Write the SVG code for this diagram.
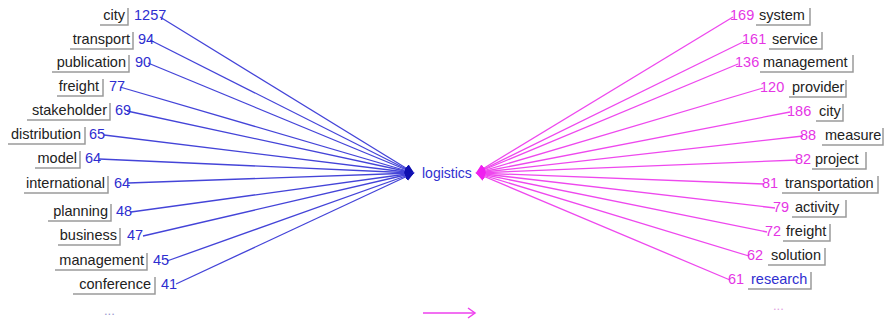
<svg xmlns="http://www.w3.org/2000/svg" width="894" height="322" viewBox="0 0 894 322">
<style>
.lbl{font-family:"Liberation Sans",Arial,sans-serif;font-size:14.5px;fill:#222}
.numL{font-family:"Liberation Sans",Arial,sans-serif;font-size:14.5px;fill:#2e2ed0}
.numR{font-family:"Liberation Sans",Arial,sans-serif;font-size:14.5px;fill:#e535e5}
.box{fill:none;stroke:#9a9a9a;stroke-width:1.5}
.box2{fill:none;stroke:#d4d4d4;stroke-width:1}
.cL{stroke:#4444d8;stroke-width:1.3;fill:none}
.cR{stroke:#ee48ee;stroke-width:1.3;fill:none}
.hub{font-family:"Liberation Sans",Arial,sans-serif;font-size:14px;fill:#3030d0}
</style>
<defs>
<marker id="aL" viewBox="0 0 10 10" refX="10" refY="5" markerWidth="9" markerHeight="9" markerUnits="userSpaceOnUse" orient="auto"><path d="M0,0 L10,5 L0,10 z" fill="#1010b0"/></marker>
<marker id="aR" viewBox="0 0 10 10" refX="10" refY="5" markerWidth="9" markerHeight="9" markerUnits="userSpaceOnUse" orient="auto"><path d="M0,0 L10,5 L0,10 z" fill="#f020f0"/></marker>
</defs>
<rect width="894" height="322" fill="#fff"/>
<g id="connectors">
<line class="cL" x1="160" y1="17" x2="414" y2="173" marker-end="url(#aL)"/>
<line class="cL" x1="150" y1="40" x2="414" y2="173" marker-end="url(#aL)"/>
<line class="cL" x1="148" y1="63" x2="414" y2="173" marker-end="url(#aL)"/>
<line class="cL" x1="120" y1="87" x2="414" y2="173" marker-end="url(#aL)"/>
<line class="cL" x1="127" y1="111" x2="414" y2="173" marker-end="url(#aL)"/>
<line class="cL" x1="104" y1="135" x2="414" y2="173" marker-end="url(#aL)"/>
<line class="cL" x1="99" y1="159" x2="414" y2="173" marker-end="url(#aL)"/>
<line class="cL" x1="128" y1="183" x2="414" y2="173" marker-end="url(#aL)"/>
<line class="cL" x1="131" y1="212" x2="414" y2="173" marker-end="url(#aL)"/>
<line class="cL" x1="143" y1="236" x2="414" y2="173" marker-end="url(#aL)"/>
<line class="cL" x1="167" y1="261" x2="414" y2="173" marker-end="url(#aL)"/>
<line class="cL" x1="176" y1="284" x2="414" y2="173" marker-end="url(#aL)"/>
<line class="cR" x1="733" y1="17" x2="476" y2="173" marker-end="url(#aR)"/>
<line class="cR" x1="745" y1="41" x2="476" y2="173" marker-end="url(#aR)"/>
<line class="cR" x1="738" y1="64" x2="476" y2="173" marker-end="url(#aR)"/>
<line class="cR" x1="763" y1="88" x2="476" y2="173" marker-end="url(#aR)"/>
<line class="cR" x1="790" y1="112" x2="476" y2="173" marker-end="url(#aR)"/>
<line class="cR" x1="803" y1="136" x2="476" y2="173" marker-end="url(#aR)"/>
<line class="cR" x1="798" y1="160" x2="476" y2="173" marker-end="url(#aR)"/>
<line class="cR" x1="764" y1="184" x2="476" y2="173" marker-end="url(#aR)"/>
<line class="cR" x1="775" y1="208" x2="476" y2="173" marker-end="url(#aR)"/>
<line class="cR" x1="767" y1="232" x2="476" y2="173" marker-end="url(#aR)"/>
<line class="cR" x1="749" y1="256" x2="476" y2="173" marker-end="url(#aR)"/>
<line class="cR" x1="730" y1="280" x2="476" y2="173" marker-end="url(#aR)"/>
</g>
<g id="hub"><text class="hub" x="422" y="178">logistics</text></g>
<g id="left-nodes">
<g id="L1"><path class="box" d="M100,25 H128 V8"/><text class="lbl" x="125" y="20" text-anchor="end">city</text><text class="numL" x="134" y="20">1257</text></g>
<g id="L2"><path class="box" d="M70,49 H133 V32"/><text class="lbl" x="130" y="44" text-anchor="end">transport</text><text class="numL" x="138" y="44">94</text></g>
<g id="L3"><path class="box" d="M52,72 H129 V55"/><text class="lbl" x="126" y="67" text-anchor="end">publication</text><text class="numL" x="135" y="67">90</text></g>
<g id="L4"><path class="box" d="M57,96 H103 V79"/><text class="lbl" x="99" y="91" text-anchor="end">freight</text><text class="numL" x="109" y="91">77</text></g>
<g id="L5"><path class="box" d="M27,120 H110 V103"/><text class="lbl" x="107" y="115" text-anchor="end">stakeholder</text><text class="numL" x="115" y="115">69</text></g>
<g id="L6"><path class="box" d="M8,144 H85 V127"/><text class="lbl" x="81" y="139" text-anchor="end">distribution</text><text class="numL" x="89" y="139">65</text></g>
<g id="L7"><path class="box" d="M35,168 H80 V151"/><text class="lbl" x="77" y="163" text-anchor="end">model</text><text class="numL" x="85" y="163">64</text></g>
<g id="L8"><path class="box" d="M24,193 H108 V176"/><text class="lbl" x="105" y="188" text-anchor="end">international</text><text class="numL" x="114" y="188">64</text></g>
<g id="L9"><path class="box" d="M48,221 H111 V204"/><text class="lbl" x="108" y="216" text-anchor="end">planning</text><text class="numL" x="116" y="216">48</text></g>
<g id="L10"><path class="box" d="M58,245 H120 V228"/><text class="lbl" x="117" y="240" text-anchor="end">business</text><text class="numL" x="127" y="240">47</text></g>
<g id="L11"><path class="box" d="M55,270 H147 V253"/><text class="lbl" x="144" y="265" text-anchor="end">management</text><text class="numL" x="153" y="265">45</text></g>
<g id="L12"><path class="box" d="M73,294 H155 V277"/><text class="lbl" x="151" y="289" text-anchor="end">conference</text><text class="numL" x="161" y="289">41</text></g>
<text x="104" y="315" font-family="Liberation Sans, Arial, sans-serif" font-size="13" fill="#9a9ad0">...</text>
</g>
<g id="right-nodes">
<g id="R1"><path class="box" d="M756,25 H810 V8"/><text class="numR" x="730" y="20">169</text><text class="lbl" x="759" y="20">system</text></g>
<g id="R2"><path class="box" d="M769,49 H822 V32"/><text class="numR" x="742" y="44">161</text><text class="lbl" x="772" y="44">service</text></g>
<g id="R3"><path class="box" d="M760,72 H853 V55"/><text class="numR" x="735" y="67">136</text><text class="lbl" x="763" y="67">management</text></g>
<g id="R4"><path class="box" d="M789,97 H846 V80"/><text class="numR" x="760" y="92">120</text><text class="lbl" x="792" y="92">provider</text></g>
<g id="R5"><path class="box" d="M816,121 H843 V104"/><text class="numR" x="787" y="116">186</text><text class="lbl" x="819" y="116">city</text></g>
<g id="R6"><path class="box" d="M822,145 H883 V128"/><text class="numR" x="800" y="140">88</text><text class="lbl" x="825" y="140">measure</text></g>
<g id="R7"><path class="box" d="M812,169 H866 V152"/><text class="numR" x="795" y="164">82</text><text class="lbl" x="815" y="164">project</text></g>
<g id="R8"><path class="box" d="M782,193 H878 V176"/><text class="numR" x="762" y="188">81</text><text class="lbl" x="785" y="188">transportation</text></g>
<g id="R9"><path class="box" d="M792,217 H846 V200"/><text class="numR" x="773" y="212">79</text><text class="lbl" x="795" y="212">activity</text></g>
<g id="R10"><path class="box" d="M783,241 H830 V224"/><text class="numR" x="765" y="236">72</text><text class="lbl" x="786" y="236">freight</text></g>
<g id="R11"><path class="box" d="M768,265 H825 V248"/><text class="numR" x="747" y="260">62</text><text class="lbl" x="771" y="260">solution</text></g>
<g id="R12"><path class="box" d="M748,289 H811 V272"/><text class="numR" x="728" y="284">61</text><text class="lbl" x="751" y="284" style="fill:#3030d0">research</text></g>
<text x="773" y="310" font-family="Liberation Sans, Arial, sans-serif" font-size="13" fill="#e0a0e0">...</text>
</g>
<g id="legend">
<line x1="423" y1="313" x2="475" y2="313" stroke="#ee40ee" stroke-width="1.5"/>
<path d="M468,308 L475,313 L468,318" fill="none" stroke="#ee40ee" stroke-width="1.5"/>
</g>
</svg>
